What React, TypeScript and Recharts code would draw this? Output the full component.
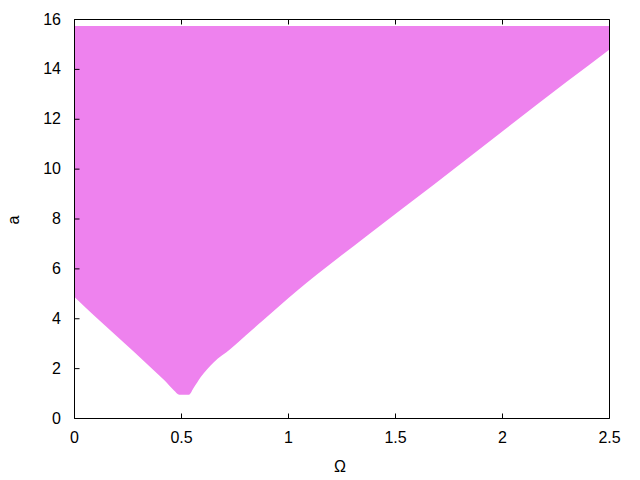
import React from "react";
import { ComposedChart, Area, XAxis, YAxis, Label } from "recharts";

// boundary of the shaded region
const omega = [0, 0.09, 0.185, 0.28, 0.37, 0.42, 0.465, 0.49, 0.535, 0.555, 0.59, 0.65, 0.73, 0.8, 0.88, 0.96, 1.04, 1.13, 1.37, 1.68, 1.99, 2.3, 2.5];
const lower = [4.87, 4.14, 3.4, 2.66, 1.93, 1.53, 1.12, 0.95, 0.95, 1.2, 1.66, 2.25, 2.8, 3.33, 3.93, 4.53, 5.12, 5.75, 7.35, 9.38, 11.45, 13.5, 14.8];
const upper = 15.74;

const xTicks = [0, 0.5, 1, 1.5, 2, 2.5];
const yTicks = [0, 2, 4, 6, 8, 10, 12, 14, 16];

const data = omega.map((w, i) => ({ omega: w, range: [lower[i], upper] }));

const FONT = "'Liberation Sans', Arial, sans-serif";
const TICK = 5;

const BottomTick = ({ x, y, payload }: any) => (
    <g>
        <line x1={x} x2={x} y1={y} y2={y - TICK} stroke="#000" />
        <text x={x} y={y + 24} textAnchor="middle" fontSize={16} fontFamily={FONT} fill="#000">
            {payload.value}
        </text>
    </g>
);

const TopTick = ({ x, y }: any) => <line x1={x} x2={x} y1={y} y2={y + TICK} stroke="#000" />;

const LeftTick = ({ x, y, payload }: any) => (
    <g>
        <line x1={x} x2={x + TICK} y1={y} y2={y} stroke="#000" />
        <text x={61} y={y + 5} textAnchor="end" fontSize={16} fontFamily={FONT} fill="#000">
            {payload.value}
        </text>
    </g>
);

const RightTick = ({ x, y }: any) => <line x1={x} x2={x - TICK} y1={y} y2={y} stroke="#000" />;

export default function App() {
    return (
        <div style={{ position: "absolute", left: 0, top: 0, background: "#fff" }}>
            <ComposedChart
                width={640}
                height={480}
                data={data}
                margin={{ top: 9.5, right: 20.5, bottom: 21.5, left: 14.5 }}
            >
                <XAxis
                    xAxisId="b"
                    dataKey="omega"
                    type="number"
                    domain={[0, 2.5]}
                    ticks={xTicks}
                    height={40}
                    tickSize={0}
                    tickMargin={0}
                    tickLine={false}
                    tick={<BottomTick />}
                    axisLine={{ stroke: "#000" }}
                    interval={0}
                >
                    <Label
                        content={({ viewBox }: any) => (
                            <text x={viewBox.x + viewBox.width / 2 - 2} y={471.5} textAnchor="middle" fontSize={16} fontFamily={FONT} fill="#000">
                                Ω
                            </text>
                        )}
                    />
                </XAxis>
                <XAxis
                    xAxisId="t"
                    orientation="top"
                    dataKey="omega"
                    type="number"
                    domain={[0, 2.5]}
                    ticks={xTicks}
                    height={10}
                    tickSize={0}
                    tickMargin={0}
                    tickLine={false}
                    tick={<TopTick />}
                    axisLine={{ stroke: "#000" }}
                    interval={0}
                />
                <YAxis
                    yAxisId="l"
                    type="number"
                    domain={[0, 16]}
                    ticks={yTicks}
                    width={60}
                    tickSize={0}
                    tickMargin={0}
                    tickLine={false}
                    tick={<LeftTick />}
                    axisLine={{ stroke: "#000" }}
                    interval={0}
                >
                    <Label
                        content={() => (
                            <text x={19} y={220} textAnchor="middle" fontSize={16} fontFamily={FONT} fill="#000" transform="rotate(-90, 19, 220)">
                                a
                            </text>
                        )}
                    />
                </YAxis>
                <YAxis
                    yAxisId="r"
                    orientation="right"
                    type="number"
                    domain={[0, 16]}
                    ticks={yTicks}
                    width={10}
                    tickSize={0}
                    tickMargin={0}
                    tickLine={false}
                    tick={<RightTick />}
                    axisLine={{ stroke: "#000" }}
                    interval={0}
                />
                <Area
                    xAxisId="b"
                    yAxisId="l"
                    dataKey="range"
                    type="monotone"
                    stroke="none"
                    fill="#ee82ee"
                    fillOpacity={1}
                    isAnimationActive={false}
                />
            </ComposedChart>
        </div>
    );
}
